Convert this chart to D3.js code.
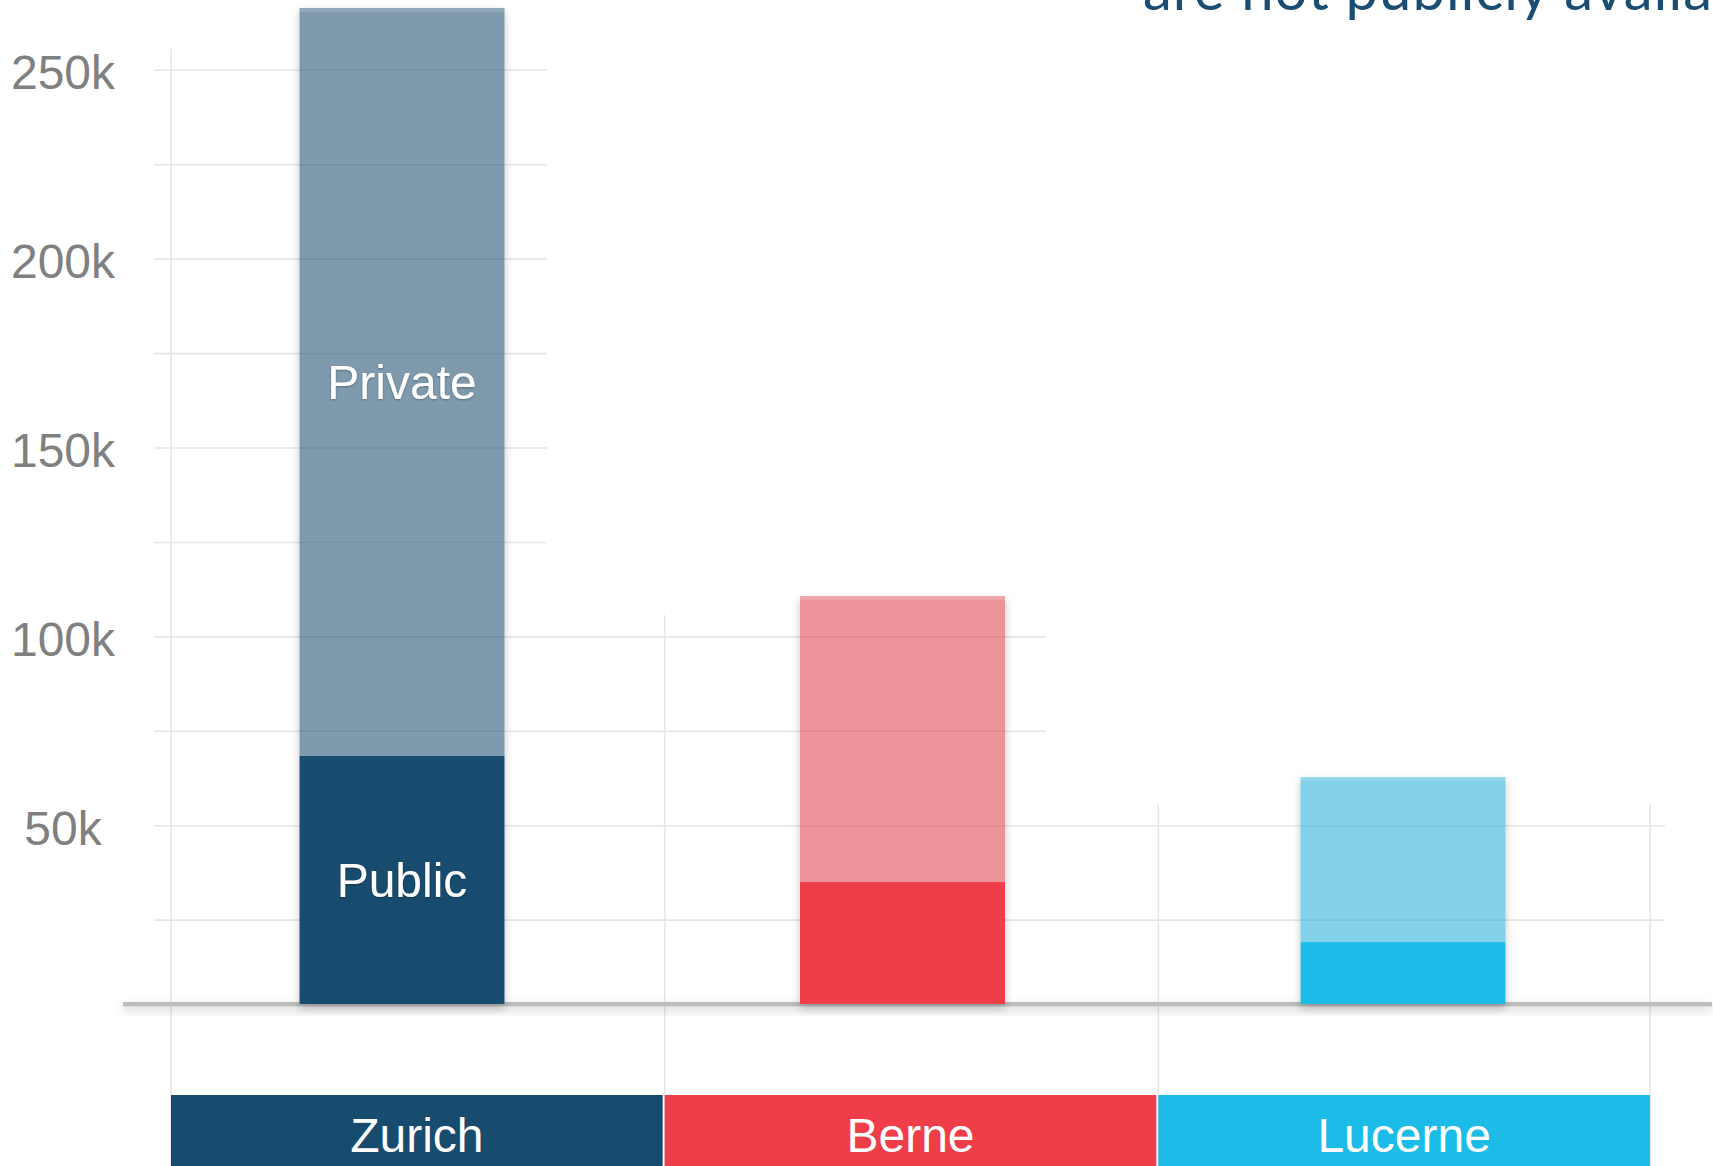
<!DOCTYPE html>
<html>
<head>
<meta charset="utf-8">
<script src="https://cdn.jsdelivr.net/npm/d3@7"></script>
<style>
  html, body { margin: 0; padding: 0; background: #fff; overflow: hidden; }
</style>
</head>
<body>
<div id="chart"></div>
<script>
// data
const categories = ["Zurich", "Berne", "Lucerne"];
const publicValues = [68500, 35100, 19200];
const privateValues = [198000, 75700, 43700];
const segmentNames = ["Public", "Private"];
const majorTicks = [50000, 100000, 150000, 200000, 250000];
const minorTicks = [25000, 75000, 125000, 175000, 225000];
const solidColors = ["#184c6f", "#ef3e4a", "#1cbbe8"];
const lightColors = ["#2a5776", "#de4b55", "#2fb2da"];

const width = 1713, height = 1166;
const baseY = 1004;          // where the grey axis line sits
const barW = 205;
const gridStart = 154;
const gridEnd = [547, 1046, 1665];

const svg = d3.select("#chart").append("svg")
    .attr("width", width)
    .attr("height", height)
    .attr("viewBox", [0, 0, width, height]);

const defs = svg.append("defs");
defs.append("filter").attr("id", "shadow")
    .attr("x", "-10%").attr("y", "-200%").attr("width", "120%").attr("height", "500%")
  .append("feDropShadow")
    .attr("dx", 0).attr("dy", 4).attr("stdDeviation", 4)
    .attr("flood-color", "#000").attr("flood-opacity", 0.2);

// shadow only, and only outside the shape (so see-through bars stay clean)
const outer = defs.append("filter").attr("id", "outerShadow")
    .attr("x", "-10%").attr("y", "-10%").attr("width", "120%").attr("height", "130%");
outer.append("feGaussianBlur").attr("in", "SourceAlpha").attr("stdDeviation", 4).attr("result", "blur");
outer.append("feOffset").attr("in", "blur").attr("dy", 4).attr("result", "off");
outer.append("feFlood").attr("flood-color", "#000").attr("flood-opacity", 0.22).attr("result", "col");
outer.append("feComposite").attr("in", "col").attr("in2", "off").attr("operator", "in").attr("result", "sh");
outer.append("feComposite").attr("in", "sh").attr("in2", "SourceAlpha").attr("operator", "out");

defs.append("filter").attr("id", "textShadow")
  .append("feDropShadow")
    .attr("dx", 0).attr("dy", 1).attr("stdDeviation", 1.2)
    .attr("flood-color", "#000").attr("flood-opacity", 0.3);

const y = d3.scaleLinear()
    .domain([0, 250000])
    .range([1014.6, 70.3]);

// category strips along the bottom
const band = d3.scaleBand()
    .domain(categories)
    .range([171, 1650])
    .paddingInner(0.004);

// bar centres
const xBar = d3.scalePoint()
    .domain(categories)
    .range([402, 1403]);

const data = categories.map((c, i) => ({
    city: c,
    pub: publicValues[i],
    priv: privateValues[i],
    total: publicValues[i] + privateValues[i],
    top: d3.max(majorTicks.filter(t => t <= publicValues[i] + privateValues[i]))
}));

// ---- grid ----
const grid = svg.append("g").attr("stroke", "#e6e6e6").attr("stroke-width", 1.6);

const allTicks = majorTicks.concat(minorTicks);
grid.selectAll("line.h")
    .data(allTicks)
    .join("line")
    .attr("class", "h")
    .attr("x1", gridStart)
    .attr("x2", t => {
        // rightmost group still tall enough for this tick
        let idx = 0;
        data.forEach((d, i) => { if (d.top >= t) idx = i; });
        return gridEnd[idx];
    })
    .attr("y1", t => y(t))
    .attr("y2", t => y(t));

const vLines = categories.map((c, i) => ({x: band(c), top: data[i].top}));
vLines.push({x: band(categories[2]) + band.bandwidth(), top: data[2].top});
grid.selectAll("line.v")
    .data(vLines)
    .join("line")
    .attr("class", "v")
    .attr("x1", d => d.x).attr("x2", d => d.x)
    .attr("y1", d => y(d.top) - 22)
    .attr("y2", height);

// ---- y tick labels ----
svg.append("g")
    .selectAll("text")
    .data(majorTicks)
    .join("text")
    .attr("x", 63)
    .attr("y", t => y(t) + 19)
    .attr("text-anchor", "middle")
    .attr("font-family", "'Liberation Sans', Arial, sans-serif")
    .attr("font-size", 48)
    .attr("fill", "#808080")
    .text(t => (t / 1000) + "k");

// ---- axis line ----
svg.append("rect")
    .attr("x", 123).attr("width", 1712 - 123)
    .attr("y", baseY - 2).attr("height", 4.5)
    .attr("fill", "#bdbdbd")
    .attr("filter", "url(#shadow)");

// ---- bars ----
// shadow silhouettes first
svg.append("g")
    .attr("filter", "url(#outerShadow)")
    .selectAll("rect")
    .data(data)
    .join("rect")
    .attr("x", d => xBar(d.city) - barW / 2)
    .attr("width", barW)
    .attr("y", d => y(d.total))
    .attr("height", d => baseY - y(d.total))
    .attr("fill", "#000");

const bars = svg.append("g");

const cityG = bars.selectAll("g")
    .data(data)
    .join("g");

cityG.append("rect")
    .attr("x", d => xBar(d.city) - barW / 2)
    .attr("width", barW)
    .attr("y", d => y(d.pub))
    .attr("height", d => baseY - y(d.pub))
    .attr("fill", (d, i) => solidColors[i]);

cityG.append("rect")
    .attr("x", d => xBar(d.city) - barW / 2)
    .attr("width", barW)
    .attr("y", d => y(d.total))
    .attr("height", d => y(d.pub) - y(d.total))
    .attr("fill", (d, i) => lightColors[i])
    .attr("fill-opacity", 0.6);

// light strip on top of each bar
cityG.append("rect")
    .attr("x", d => xBar(d.city) - barW / 2)
    .attr("width", barW)
    .attr("y", d => y(d.total))
    .attr("height", 4)
    .attr("fill", "#fff")
    .attr("fill-opacity", 0.15);

// segment names on the first bar only
const first = data[0];
const labelY = [ (baseY + y(first.pub)) / 2, (y(first.pub) + y(first.total)) / 2 ];
svg.append("g")
    .selectAll("text")
    .data(segmentNames)
    .join("text")
    .attr("x", xBar(first.city))
    .attr("y", (d, i) => labelY[i] + 17)
    .attr("text-anchor", "middle")
    .attr("font-family", "'Liberation Sans', Arial, sans-serif")
    .attr("font-size", 48)
    .attr("fill", "#fff")
    .attr("filter", "url(#textShadow)")
    .text(d => d);

// ---- category strips ----
const strips = svg.append("g");
strips.selectAll("rect")
    .data(categories)
    .join("rect")
    .attr("x", c => band(c))
    .attr("width", band.bandwidth())
    .attr("y", 1095)
    .attr("height", height - 1095)
    .attr("fill", (c, i) => solidColors[i]);

strips.selectAll("text")
    .data(categories)
    .join("text")
    .attr("x", c => band(c) + band.bandwidth() / 2)
    .attr("y", 1152)
    .attr("text-anchor", "middle")
    .attr("font-family", "'Liberation Sans', Arial, sans-serif")
    .attr("font-size", 48)
    .attr("fill", "#fff")
    .text(c => c);

// ---- note cut off at the top right ----
svg.append("text")
    .attr("x", 1143)
    .attr("y", 10)
    .attr("font-family", "Lato, 'Open Sans', sans-serif")
    .attr("font-size", 58)
    .attr("letter-spacing", 1)
    .attr("fill", "#1a4d72")
    .text("are not publicly available");
</script>
</body>
</html>
